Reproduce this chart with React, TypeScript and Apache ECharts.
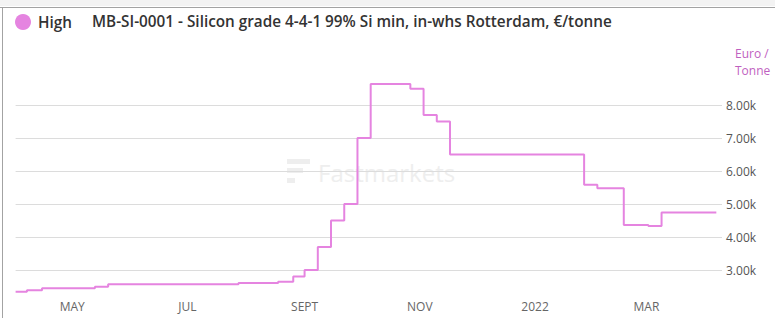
import React, { useEffect, useRef } from "react";
import * as echarts from "echarts";

const seriesName = "High";
const chartTitle = "MB-SI-0001 - Silicon grade 4-4-1 99% Si min, in-whs Rotterdam, €/tonne";
const unitName = "Euro /\nTonne";

const dates = [
  "2021-04-01", "2021-04-07", "2021-04-15", "2021-05-13", "2021-05-20",
  "2021-07-28", "2021-08-18", "2021-08-26", "2021-09-01", "2021-09-08",
  "2021-09-15", "2021-09-22", "2021-09-29", "2021-10-06", "2021-10-27",
  "2021-11-03", "2021-11-10", "2021-11-17", "2022-01-27", "2022-02-03",
  "2022-02-17", "2022-03-02", "2022-03-09", "2022-04-07",
];
const prices = [
  2340, 2390, 2445, 2495, 2565,
  2605, 2645, 2800, 3000, 3700,
  4500, 5000, 7000, 8640, 8490,
  7700, 7500, 6500, 5580, 5480,
  4360, 4330, 4740, 4740,
];

const tickDates = ["2021-05-01", "2021-07-01", "2021-09-01", "2021-11-01", "2022-01-01", "2022-03-01"];
const tickLabels = ["MAY", "JUL", "SEPT", "NOV", "2022", "MAR"];

const axisStart = "2021-04-01";
const axisEnd = "2022-04-10";
const yMin = 2200;
const yMax = 9000;

const FONT = "'Open Sans', 'Noto Sans', sans-serif";
const LINE_COLOR = "#E584E0";

function ts(d: string) {
  return new Date(d + "T00:00:00Z").getTime();
}

export default function App() {
  const ref = useRef<HTMLDivElement>(null);
  useEffect(() => {
    document.body.style.margin = "0";
    if (!ref.current) return;
    const chart = echarts.init(ref.current, null, { renderer: "svg" });
    const tickTs = tickDates.map(ts);
    chart.setOption({
      animation: false,
      backgroundColor: "#ffffff",
      title: {
        text: chartTitle,
        left: 92,
        top: 13,
        padding: 0,
        textStyle: { fontFamily: FONT, fontSize: 15.3, fontWeight: 600, color: "#333333" },
      },
      legend: {
        data: [seriesName],
        left: 15,
        top: 14,
        padding: 0,
        icon: "circle",
        itemWidth: 16,
        itemHeight: 16,
        textStyle: { fontFamily: FONT, fontSize: 15.3, fontWeight: 600, color: "#333333", padding: [0, 0, 0, 2] },
      },
      graphic: [
        { type: "rect", shape: { x: 0, y: 0, width: 775, height: 6 }, style: { fill: "#f3f3f3" }, silent: true },
        { type: "line", shape: { x1: 0, y1: 7.5, x2: 775, y2: 7.5 }, style: { stroke: "#a3a3a3", lineWidth: 1 }, silent: true },
        { type: "line", shape: { x1: 2.5, y1: 7.5, x2: 2.5, y2: 318 }, style: { stroke: "#a3a3a3", lineWidth: 1 }, silent: true },
        {
          type: "group",
          silent: true,
          z: 1,
          children: [
            { type: "rect", shape: { x: 287, y: 159, width: 23, height: 5 }, style: { fill: "#eeeeee" } },
            { type: "rect", shape: { x: 287, y: 168, width: 16, height: 5 }, style: { fill: "#eeeeee" } },
            { type: "rect", shape: { x: 287, y: 178, width: 8, height: 5 }, style: { fill: "#eeeeee" } },
            {
              type: "text",
              x: 318,
              y: 172,
              style: {
                text: "Fastmarkets",
                fill: "#eeeeee",
                font: "24px 'Open Sans', sans-serif",
                textVerticalAlign: "middle",
              },
            },
          ],
        },
      ],
      grid: { left: 15.6, right: 53, top: 72, bottom: 21.6, containLabel: false },
      xAxis: {
        type: "value",
        min: ts(axisStart),
        max: ts(axisEnd),
        axisLine: { show: false },
        axisTick: { show: false },
        splitLine: { show: false },
        axisLabel: {
          customValues: tickTs,
          margin: 4,
          color: "#666666",
          fontFamily: FONT,
          fontSize: 12,
          formatter: (v: number) => {
            const i = tickTs.indexOf(v);
            return i >= 0 ? tickLabels[i] : "";
          },
        },
      },
      yAxis: {
        type: "value",
        position: "right",
        min: yMin,
        max: yMax,
        minInterval: 1000,
        maxInterval: 1000,
        name: unitName,
        nameLocation: "end",
        nameGap: -7,
        nameTextStyle: {
          fontFamily: FONT,
          fontSize: 12,
          color: "#bf5fbf",
          align: "left",
          verticalAlign: "bottom",
          lineHeight: 17,
          padding: [0, 0, 0, 13],
        },
        axisLine: { show: false },
        axisTick: { show: false },
        axisLabel: {
          showMinLabel: false,
          showMaxLabel: false,
          margin: 4,
          color: "#555555",
          fontFamily: FONT,
          fontSize: 12,
          formatter: (v: number) => (v / 1000).toFixed(2) + "k",
        },
        splitLine: { show: true, showMinLine: false, showMaxLine: false, lineStyle: { color: "#dcdcdc", width: 1 } },
      },
      series: [
        {
          name: seriesName,
          type: "line",
          step: "end",
          showSymbol: false,
          symbol: "none",
          color: LINE_COLOR,
          lineStyle: { color: LINE_COLOR, width: 2 },
          itemStyle: { color: LINE_COLOR },
          z: 3,
          data: dates.map((d, i) => [ts(d), prices[i]]),
        },
      ],
    });
    return () => chart.dispose();
  }, []);
  return <div ref={ref} style={{ width: 775, height: 318 }} />;
}
